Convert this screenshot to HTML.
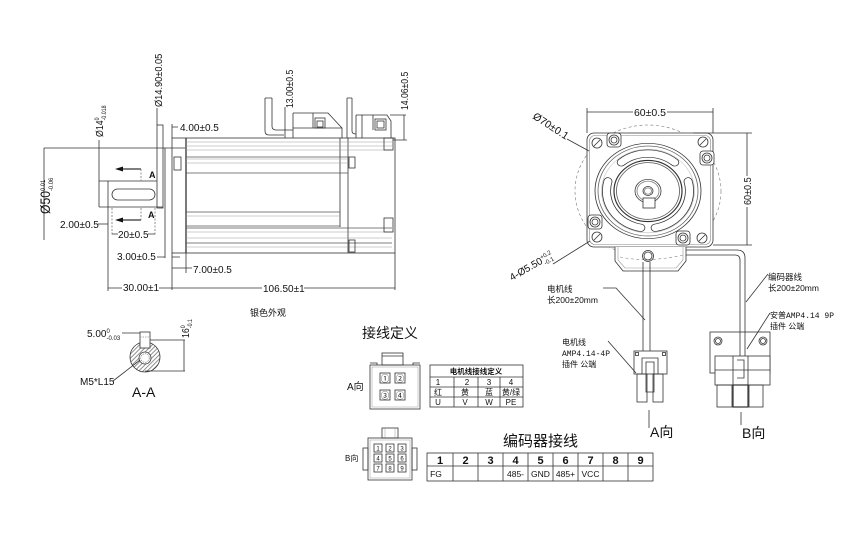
<!DOCTYPE html>
<html><head><meta charset="utf-8">
<style>
html,body{margin:0;padding:0;background:#fff;}
svg{display:block;}
text{font-family:"Liberation Sans","Noto Sans CJK SC",sans-serif;fill:#111;stroke:none;}
.cjk{font-family:"Liberation Sans","Noto Sans CJK SC",sans-serif;}
.mono{font-family:"Liberation Mono","Noto Sans CJK SC",monospace;}
</style></head>
<body>
<svg width="856" height="545" viewBox="0 0 856 545" xmlns="http://www.w3.org/2000/svg">
<defs>
<pattern id="h" width="3" height="3" patternUnits="userSpaceOnUse" patternTransform="rotate(45)"><line x1="0.5" y1="0" x2="0.5" y2="3" stroke="#444" stroke-width="0.6"/></pattern>
</defs>
<rect width="856" height="545" fill="#fff"/>

<!-- ================= LEFT SIDE VIEW ================= -->
<g fill="none" stroke="#333" stroke-width="0.8">
  <!-- Ø50 dim -->
  <path d="M44,148 V240 M44,148 H185"/>
  <!-- Ø14 dim -->
  <path d="M99,140 V207 M99,181 H157 M99,207 H163"/>
  <!-- shaft left edge / 30 ext -->
  <path d="M108,181 V291"/>
  <!-- keyway -->
  <rect x="112" y="189" width="43" height="11" rx="5.5"/>
  <!-- flange -->
  <rect x="157" y="125" width="6" height="83"/>
  <path d="M157,108 V125 M165,148 V258"/>
  <!-- section arrows -->
  <path d="M122,169 H141 M122,220 H141" stroke-width="1.3"/>
  <path d="M141,169 V181 M141,208 V220" stroke-dasharray="2 1.5" stroke="#777"/>
  <!-- 2.00 -->
  <path d="M98,224 H108"/>
  <!-- 20 -->
  <path d="M112,208 V236 M155,208 V236" stroke="#777" stroke-dasharray="2 1.5"/>
  <path d="M112,234 H118 M148,234 H155"/>
  <!-- 3.00 -->
  <path d="M157,257 H165 M172,257 H180"/>
  <!-- 30 / 106.5 -->
  <path d="M108,288 H122 M159,288 H262 M304,288 H395"/>
  <path d="M172,253 V290 M395,253 V290"/>
  <!-- 7.00 -->
  <path d="M186,253 V273 M172,268 H192"/>
  <!-- 4.00 -->
  <path d="M172,124 V138 M172,127 H178"/>

  <!-- body -->
  <rect x="172" y="138" width="223" height="115"/>
  <path d="M186,138 V253" stroke-width="1.3"/>
  <rect x="174" y="157" width="7" height="13"/>
  <path d="M340,138 V227 M348,138 V253"/>
  <!-- fins light -->
  <g stroke="#999" stroke-width="0.6">
    <path d="M186,142 H392 M186,146 H392 M186,150 H392"/>
    <path d="M186,159 H348 M186,163 H348"/>
    <path d="M186,232 H392 M186,238 H392 M186,247 H392"/>
    <path d="M186,216 H340"/>
  </g>
  <path d="M186,157 H348 M186,173 H348 M186,212 H340 M186,226 H340 M186,228 H392 M186,243 H392" stroke="#555" stroke-width="0.7"/>
  <!-- tabs -->
  <rect x="349" y="157" width="6" height="11"/>
  <rect x="349" y="240" width="6" height="12"/>
  <rect x="384" y="138" width="9" height="12"/>
  <rect x="384" y="218" width="9" height="14"/>

  <!-- top connector 1 -->
  <path d="M265,98 H272 M265,98 V131 Q265,135 269,135 H284 M272,98 V126 Q272,130 276,130 H293"/>
  <path d="M293,113 H328 L342,128 V138 M293,113 V138 M293,128 H342 M313,113 V128"/>
  <rect x="315" y="118" width="10" height="10"/>
  <rect x="317" y="121" width="6" height="6"/>
  <!-- 13.00 dim -->
  <path d="M285,107 V138"/>
  <!-- top connector 2 -->
  <path d="M347,98 H352 M347,98 V138 M352,98 V131 Q352,134 356,134"/>
  <path d="M356,115 H387 L391,121 V138 M356,115 V138 M362,115 V138 M373,115 V130"/>
  <rect x="375" y="119" width="11" height="11"/>
  <rect x="377" y="121" width="7" height="7"/>
  <!-- 14.06 dim -->
  <path d="M404,115 V140 M390,115 H406 M393,140 H407"/>
</g>
<polygon points="115,169 123,166.5 123,171.5" fill="#111"/>
<polygon points="115,220 123,217.5 123,222.5" fill="#111"/>

<!-- left view texts -->
<text transform="translate(50,214) rotate(-90) scale(0.9,1)" font-size="13.5">Ø50<tspan font-size="6.5" dy="-5">0.01</tspan><tspan font-size="6.5" dx="-12.6" dy="8">-0.06</tspan></text>
<text transform="translate(103,137) rotate(-90) scale(0.88,1)" font-size="10">Ø14<tspan font-size="6" dy="-4">0</tspan><tspan font-size="6" dx="-3.3" dy="7">-0.018</tspan></text>
<text transform="translate(162,107) rotate(-90) scale(0.88,1)" font-size="10.5">Ø14.90±0.05</text>
<text transform="translate(293,108) rotate(-90) scale(0.88,1)" font-size="9.8">13.00±0.5</text>
<text transform="translate(408,110) rotate(-90) scale(0.88,1)" font-size="9.8">14.06±0.5</text>
<text x="180" y="131" font-size="10">4.00±0.5</text>
<text x="149" y="178" font-size="9" font-weight="bold">A</text>
<text x="148" y="218" font-size="9" font-weight="bold">A</text>
<text x="60" y="228" font-size="10">2.00±0.5</text>
<text x="118" y="238" font-size="10">20±0.5</text>
<text x="117" y="260" font-size="10">3.00±0.5</text>
<text x="193" y="273" font-size="10">7.00±0.5</text>
<text x="123" y="291" font-size="10">30.00±1</text>
<text x="263" y="292" font-size="10">106.50±1</text>
<text x="250" y="316" font-size="9" class="cjk">银色外观</text>

<!-- ================= A-A SECTION ================= -->
<g fill="none" stroke="#333" stroke-width="0.8">
  <circle cx="145" cy="357" r="15" fill="url(#h)"/>
  <circle cx="145" cy="358" r="6" fill="#fff"/>
  <circle cx="145" cy="358" r="4.3" stroke="#888" stroke-dasharray="1.5 1"/>
  <rect x="140" y="332" width="10" height="16" fill="#fff"/>
  <path d="M140,337 H150" stroke="#999" stroke-dasharray="1.5 1"/>
  <path d="M150,340 H185 M145,371 H185 M184,340 V371"/>
  <path d="M122,333 H140"/>
  <path d="M113,381 L140,360"/>
</g>
<text x="87" y="337" font-size="10">5.00<tspan font-size="6" dy="-4">0</tspan><tspan font-size="6" dx="-3.3" dy="7">-0.03</tspan></text>
<text transform="translate(189,338) rotate(-90) scale(0.88,1)" font-size="10">16<tspan font-size="6" dy="-4">0</tspan><tspan font-size="6" dx="-3.3" dy="7">-0.1</tspan></text>
<text x="80" y="385" font-size="10">M5*L15</text>
<text x="132" y="397" font-size="14">A-A</text>

<!-- ================= FRONT VIEW ================= -->
<g fill="none" stroke="#333" stroke-width="0.8">
  <ellipse cx="648" cy="191" rx="73" ry="66" stroke="#777" stroke-width="0.6" stroke-dasharray="3 2.5"/>
  <rect x="587" y="133" width="126" height="114" rx="7" fill="#fff"/>
  <rect x="589.5" y="135.5" width="121" height="109" rx="5.5" stroke="#888" stroke-width="0.6"/>
  <!-- dims -->
  <path d="M587,108 V133 M713,108 V133 M587,112 H633 M667,112 H713"/>
  <path d="M693,133 H752 M713,245 H752 M747,133 V176 M747,207 V245"/>
  <path d="M567,139 L589,151"/>
  <path d="M553,264 L590,241"/>
  <g transform="translate(648,191) scale(1,0.9)">
    <circle r="53"/>
    <circle r="50" stroke="#666"/>
    <circle r="46.5" stroke="#aaa" stroke-width="0.5"/>
    <g stroke-linecap="round">
      <path d="M-26.7,-31.8 A41.5,41.5 0 0 1 26.7,-31.8" stroke="#333" stroke-width="9"/>
      <path d="M-26.7,-31.8 A41.5,41.5 0 0 1 26.7,-31.8" stroke="#fff" stroke-width="7.4"/>
      <path d="M-7.2,40.9 A41.5,41.5 0 0 1 -40.1,-10.7" stroke="#333" stroke-width="9"/>
      <path d="M-7.2,40.9 A41.5,41.5 0 0 1 -40.1,-10.7" stroke="#fff" stroke-width="7.4"/>
      <path d="M40.1,-10.7 A41.5,41.5 0 0 1 7.2,40.9" stroke="#333" stroke-width="9"/>
      <path d="M40.1,-10.7 A41.5,41.5 0 0 1 7.2,40.9" stroke="#fff" stroke-width="7.4"/>
    </g>
    <circle r="34" stroke-width="1.2"/>
    <circle r="31.5" stroke="#555"/>
    <circle r="13"/>
    <circle r="11" stroke="#777"/>
    <circle r="5"/>
    <circle r="3.5" stroke="#777"/>
  </g>
  <rect x="643" y="198" width="12" height="10" fill="#fff"/>
  <!-- corner holes -->
  <g>
    <circle cx="597" cy="143" r="5"/><path d="M594,146 L600,140"/>
    <circle cx="703" cy="142" r="5"/><path d="M700,145 L706,139"/>
    <circle cx="597" cy="237" r="5"/><path d="M594,240 L600,234"/>
    <circle cx="702" cy="238" r="5"/><path d="M699,241 L705,235"/>
  </g>
  <!-- bolt heads -->
  <g>
    <rect x="607" y="133" width="14" height="14" rx="3" fill="#fff"/><circle cx="614" cy="140" r="5"/><circle cx="614" cy="140" r="3"/>
    <rect x="700" y="151" width="14" height="14" rx="3" fill="#fff"/><circle cx="707" cy="158" r="5"/><circle cx="707" cy="158" r="3"/>
    <rect x="588" y="215" width="14" height="14" rx="3" fill="#fff"/><circle cx="595" cy="222" r="5"/><circle cx="595" cy="222" r="3"/>
    <rect x="676" y="231" width="14" height="14" rx="3" fill="#fff"/><circle cx="683" cy="238" r="5"/><circle cx="683" cy="238" r="3"/>
  </g>
  <!-- housing -->
  <path d="M615,247 V261 L623,271 H678 L686,261 V247" fill="#fff"/>
  <path d="M618,247 V260 L625,268 H676 L683,260 V247" stroke="#999" stroke-width="0.6"/>
  <path d="M620,257 Q648,263 683,255" stroke="#888" stroke-width="0.6" stroke-dasharray="3 2.5"/>
  <circle cx="648" cy="256" r="5.5" fill="#fff"/>
  <circle cx="648" cy="256" r="4"/>
  <!-- motor cable -->
  <path d="M643,262 V351 M650,262 V351"/>
  <!-- encoder cable -->
  <path d="M686,250 H737 Q745,250 745,258 V356 M686,255 H735 Q740,255 740,260 V356"/>

  <!-- connector A -->
  <rect x="634" y="351" width="33" height="23" fill="#fff"/>
  <rect x="635.5" y="352.5" width="3" height="3"/>
  <rect x="662.5" y="352.5" width="3" height="3"/>
  <path d="M642,374 V358 H658 V374 M646,362 H654 V392 H646 Z"/>
  <rect x="637" y="374" width="10" height="28"/>
  <rect x="653" y="374" width="10" height="28"/>

  <!-- connector B -->
  <rect x="710" y="332" width="60" height="41" fill="#fff"/>
  <circle cx="718" cy="341" r="4"/><circle cx="718" cy="341" r="2.5"/>
  <circle cx="763" cy="341" r="4"/><circle cx="763" cy="341" r="2.5"/>
  <path d="M740,332 V356 M745,332 V356"/>
  <rect x="715" y="356" width="55" height="29" fill="#fff"/>
  <path d="M715,370 H770 M733,356 V385 M748,356 V385"/>
  <path d="M737,360 H744 V378 H737"/>
  <rect x="717" y="385" width="15" height="22"/>
  <rect x="733" y="385" width="15" height="22" stroke-width="1.2"/>
  <rect x="749" y="385" width="14" height="22"/>

  <!-- leaders -->
  <path d="M603,288 H616 L645,320"/>
  <path d="M608,341 L636,373"/>
  <path d="M768,274 L746,302"/>
  <path d="M770,313 L747,349"/>
  <path d="M649,410 V428 M741,412 V425"/>
</g>
<text x="650" y="116" font-size="10.5" text-anchor="middle">60±0.5</text>
<text transform="translate(751,205) rotate(-90) scale(0.88,1)" font-size="10.3">60±0.5</text>
<text transform="translate(532,118) rotate(33)" font-size="10.5">Ø70±0.1</text>
<text transform="translate(512,281) rotate(-30)" font-size="10">4-Ø5.50<tspan font-size="6" dy="-4">+0.2</tspan><tspan font-size="6" dx="-11" dy="7">-0.1</tspan></text>

<text x="547" y="292" font-size="8.5" class="cjk">电机线</text>
<text x="547" y="303" font-size="8.5" class="cjk">长200±20mm</text>
<text x="562" y="345" font-size="8" class="cjk">电机线</text>
<text x="562" y="356" font-size="8" class="mono">AMP4.14-4P</text>
<text x="562" y="367" font-size="8" class="cjk">插件 公端</text>
<text x="768" y="280" font-size="8.5" class="cjk">编码器线</text>
<text x="768" y="291" font-size="8.5" class="cjk">长200±20mm</text>
<text x="770" y="318" font-size="8" class="cjk">安普<tspan class="mono">AMP4.14 9P</tspan></text>
<text x="770" y="329" font-size="8" class="cjk">插件 公端</text>
<text x="650" y="437" font-size="14" class="cjk">A向</text>
<text x="742" y="438" font-size="14" class="cjk">B向</text>

<!-- ================= 接线定义 ================= -->
<text x="362" y="338" font-size="14" class="cjk">接线定义</text>
<g fill="none" stroke="#333" stroke-width="0.8">
  <rect x="382" y="353" width="21" height="12"/>
  <path d="M382,356 H403"/>
  <rect x="370" y="365" width="50" height="44"/>
  <rect x="372" y="367" width="46" height="40" stroke="#999" stroke-width="0.5"/>
  <path d="M370,363 H377 V365 M420,363 H413 V365"/>
  <rect x="380" y="373" width="10" height="10"/>
  <rect x="395" y="373" width="10" height="10"/>
  <rect x="380" y="390" width="10" height="10"/>
  <rect x="395" y="390" width="10" height="10"/>
  <!-- motor table -->
  <rect x="430" y="365" width="93" height="42"/>
  <path d="M430,377 H523 M430,387 H523 M430,397 H523 M454,377 V407 M478,377 V407 M500,377 V407"/>
</g>
<g font-size="8.5" text-anchor="middle">
  <text x="385" y="381.5">①</text><text x="400" y="381.5">②</text>
  <text x="385" y="398.5">③</text><text x="400" y="398.5">④</text>
</g>
<text x="347" y="390" font-size="10" class="cjk">A向</text>
<text x="476" y="374" font-size="7.5" font-weight="bold" text-anchor="middle" class="cjk">电机线接线定义</text>
<g font-size="8" text-anchor="middle" class="cjk">
  <text x="438" y="385">1</text><text x="467" y="385">2</text><text x="489" y="385">3</text><text x="511" y="385">4</text>
  <text x="438" y="395">红</text><text x="465" y="395">黄</text><text x="489" y="395">蓝</text><text x="511" y="395">黄/绿</text>
  <text x="438" y="405">U</text><text x="465" y="405">V</text><text x="489" y="405">W</text><text x="511" y="405">PE</text>
</g>

<!-- ================= 编码器接线 ================= -->
<text x="503" y="446" font-size="15" class="cjk">编码器接线</text>
<g fill="none" stroke="#333" stroke-width="0.8">
  <rect x="382" y="428" width="16" height="10"/>
  <path d="M385,428 V438 M395,428 V438" stroke="#999" stroke-width="0.5"/>
  <rect x="368" y="438" width="44" height="42"/>
  <rect x="370" y="440" width="40" height="38" stroke="#999" stroke-width="0.5"/>
  <rect x="363" y="448" width="5" height="22"/>
  <rect x="412" y="448" width="5" height="22"/>
  <rect x="374" y="444" width="8" height="8"/><rect x="386" y="444" width="8" height="8"/><rect x="398" y="444" width="8" height="8"/>
  <rect x="374" y="454" width="8" height="8"/><rect x="386" y="454" width="8" height="8"/><rect x="398" y="454" width="8" height="8"/>
  <rect x="374" y="464" width="8" height="8"/><rect x="386" y="464" width="8" height="8"/><rect x="398" y="464" width="8" height="8"/>
  <!-- table -->
  <rect x="427" y="453" width="226" height="28"/>
  <path d="M427,466 H653 M453,453 V481 M478,453 V481 M503,453 V481 M528,453 V481 M553,453 V481 M578,453 V481 M603,453 V481 M628,453 V481"/>
</g>
<g font-size="6" text-anchor="middle">
  <text x="378" y="450.5">1</text><text x="390" y="450.5">2</text><text x="402" y="450.5">3</text>
  <text x="378" y="460.5">4</text><text x="390" y="460.5">5</text><text x="402" y="460.5">6</text>
  <text x="378" y="470.5">7</text><text x="390" y="470.5">8</text><text x="402" y="470.5">9</text>
</g>
<text x="345" y="461" font-size="8" class="cjk">B向</text>
<g font-size="11" font-weight="bold" text-anchor="middle">
  <text x="440" y="464">1</text><text x="465.5" y="464">2</text><text x="490.5" y="464">3</text>
  <text x="515.5" y="464">4</text><text x="540.5" y="464">5</text><text x="565.5" y="464">6</text>
  <text x="590.5" y="464">7</text><text x="615.5" y="464">8</text><text x="640.5" y="464">9</text>
</g>
<g font-size="8.5" text-anchor="middle">
  <text x="436" y="477" font-family="Liberation Serif, serif">FG</text>
  <text x="515.5" y="477">485-</text><text x="540.5" y="477">GND</text>
  <text x="565.5" y="477">485+</text><text x="590.5" y="477">VCC</text>
</g>
</svg>
</body></html>
